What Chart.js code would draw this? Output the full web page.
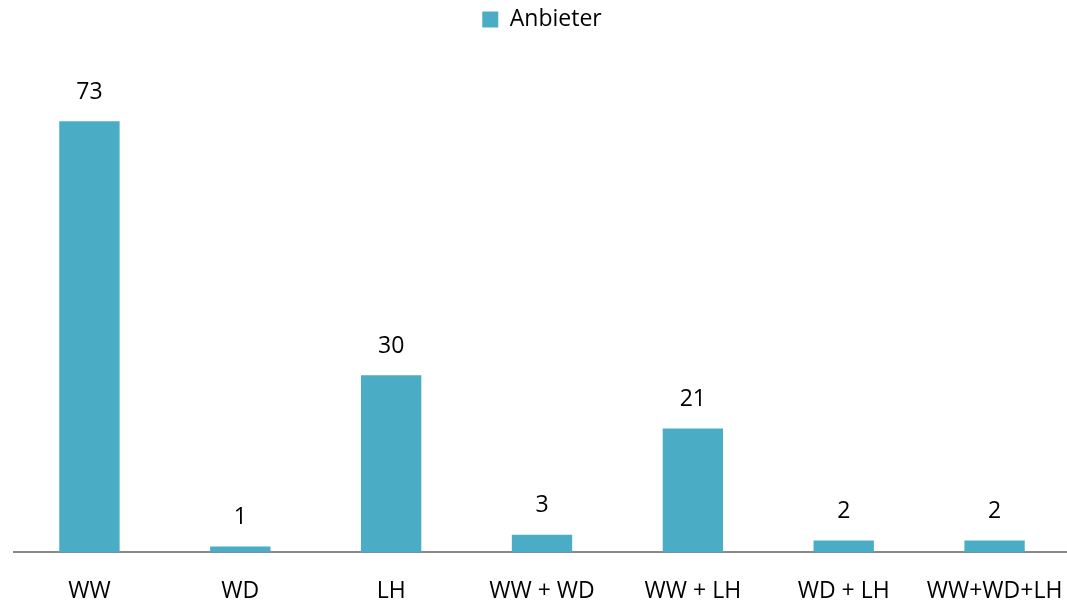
<!DOCTYPE html>
<html>
<head>
<meta charset="utf-8">
<script src="https://cdn.jsdelivr.net/npm/chart.js@4"></script>
<style>
html,body{margin:0;padding:0;background:#fff;overflow:hidden;}
#outer{width:1067px;height:601px;overflow:hidden;position:relative;}
#wrap{width:1094px;height:630px;position:absolute;left:0;top:0;}
</style>
</head>
<body>
<div id="outer"><div id="wrap"><canvas id="c"></canvas></div></div>
<script>
const categories = ["WW", "WD", "LH", "WW + WD", "WW + LH", "WD + LH", "WW+WD+LH"];
const seriesName = "Anbieter";
const values = [73, 1, 30, 3, 21, 2, 2];

const barColor = "#4BACC6";
const FONT = "'Open Sans', sans-serif";
const FS = 23;

const dataLabels = {
  id: 'dataLabels',
  afterDatasetsDraw(chart) {
    const ctx = chart.ctx;
    ctx.save();
    ctx.font = FS + "px " + FONT;
    ctx.fillStyle = "#000";
    ctx.textAlign = "center";
    ctx.textBaseline = "middle";
    const meta = chart.getDatasetMeta(0);
    meta.data.forEach((bar, i) => {
      ctx.fillText(String(values[i]), bar.x, bar.y - 29);
    });
    ctx.restore();
  }
};

const legendSpace = {
  id: 'legendSpace',
  beforeInit(chart) {
    const origFit = chart.legend.fit;
    chart.legend.fit = function () {
      origFit.bind(chart.legend)();
      this.height += 39;
    };
  }
};

new Chart(document.getElementById('c'), {
  type: 'bar',
  data: {
    labels: categories,
    datasets: [{
      label: seriesName,
      data: values,
      backgroundColor: barColor,
      borderWidth: 0,
      barPercentage: 0.4,
      categoryPercentage: 1.0
    }]
  },
  options: {
    responsive: true,
    maintainAspectRatio: false,
    animation: false,
    layout: { padding: { left: 14, right: 24, top: 0, bottom: 0 } },
    plugins: {
      legend: {
        display: true,
        position: 'top',
        labels: {
          boxWidth: 16, boxHeight: 16,
          color: '#000',
          font: { family: FONT, size: FS },
          padding: 8
        }
      },
      tooltip: { enabled: false }
    },
    scales: {
      x: {
        grid: { display: false, drawTicks: false },
        border: { display: true, color: '#898989', width: 2 },
        ticks: { color: '#000', font: { family: FONT, size: FS }, padding: 25, maxRotation: 0, autoSkip: false }
      },
      y: {
        display: false,
        min: 0, max: 80
      }
    }
  },
  plugins: [dataLabels, legendSpace]
});
</script>
</body>
</html>
